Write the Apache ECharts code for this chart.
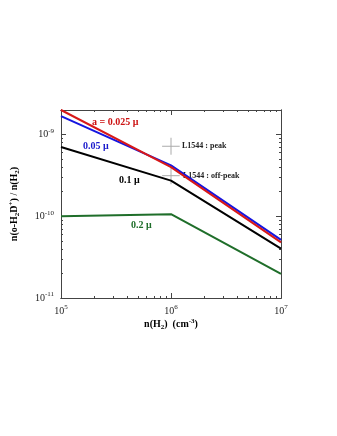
<!DOCTYPE html>
<html>
<head>
<meta charset="utf-8">
<script src="https://cdn.jsdelivr.net/npm/echarts@6/dist/echarts.min.js"></script>
<style>
html, body { margin: 0; padding: 0; background: #fff; }
#chart { width: 337px; height: 436px; }
</style>
</head>
<body>
<div id="chart"></div>
<script>
// n(H2) grid points
var densities = [1e5, 1e6, 1e7];
// n(o-H2D+)/n(H2) for each grain size
var a0025 = [2.0e-9, 4.0e-10, 4.8e-11];
var a005 = [1.68e-9, 4.2e-10, 5.15e-11];
var a01 = [7.06e-10, 2.73e-10, 4.03e-11];
var a02 = [1.0e-10, 1.06e-10, 1.97e-11];
// L1544 observations (centre and error ranges)
var peakX = 1e6, peakY = 7.2e-10;
var peakXRange = [8.3e5, 1.2e6], peakYRange = [5.67e-10, 9.15e-10];
var offX = 1e6, offY = 3.14e-10;
var offXRange = [8.3e5, 1.2e6], offYRange = [2.47e-10, 3.99e-10];
// ticks
var xMajor = [1e5, 1e6, 1e7];
var xMinor = [2e5, 3e5, 4e5, 5e5, 6e5, 7e5, 8e5, 9e5, 2e6, 3e6, 4e6, 5e6, 6e6, 7e6, 8e6, 9e6];
var yMajor = [1e-11, 1e-10, 1e-9];
var yMinor = [2e-11, 3e-11, 4e-11, 5e-11, 6e-11, 7e-11, 8e-11, 9e-11,
	2e-10, 3e-10, 4e-10, 5e-10, 6e-10, 7e-10, 8e-10, 9e-10];

var serif = '"Liberation Serif", "DejaVu Serif", serif';
var frameColor = '#444';

function pairs(xs, ys) {
	var out = [];
	for (var i = 0; i < xs.length; i++) {
		out.push([xs[i], ys[i]]);
	}
	return out;
}

var powRich = {
	b: { fontFamily: serif, fontSize: 10, color: '#222' },
	s: { fontFamily: serif, fontSize: 7, color: '#222', verticalAlign: 'top', padding: [0, 0, 7, 0] }
};
function powLabel(v) {
	var e = Math.round(Math.log10(v));
	return '{b|10}{s|' + e + '}';
}

var titleRich = {
	t: { fontFamily: serif, fontSize: 10, fontWeight: 'bold', color: '#000' },
	sub: { fontFamily: serif, fontSize: 7, fontWeight: 'bold', color: '#000', padding: [6, 0, 0, 0] },
	sup: { fontFamily: serif, fontSize: 7, fontWeight: 'bold', color: '#000', padding: [0, 0, 6, 0] }
};

function tickAxis(pos, vals, len, type) {
	var a = {
		type: 'log', logBase: 10, position: pos,
		axisLine: { show: true, lineStyle: { color: frameColor, width: 1 } },
		axisTick: { show: true, inside: true, length: len, customValues: vals, lineStyle: { color: frameColor } },
		axisLabel: { show: false },
		splitLine: { show: false }
	};
	return a;
}

var xA = [];
var xMain = tickAxis('bottom', xMajor, 5);
xMain.min = 1e5; xMain.max = 1e7;
xMain.axisLabel = { show: true, customValues: xMajor, margin: 6, formatter: powLabel, rich: powRich };
xMain.name = '{t|n(H}{sub|2}{t|)  (cm}{sup|-3}{t|)}';
xMain.nameLocation = 'middle';
xMain.nameGap = 20;
xMain.nameTextStyle = { rich: titleRich };
xA.push(xMain);
var xs = [['bottom', xMinor, 2], ['top', xMajor, 5], ['top', xMinor, 2]];
for (var i = 0; i < xs.length; i++) {
	var ax = tickAxis(xs[i][0], xs[i][1], xs[i][2]);
	ax.min = 1e5; ax.max = 1e7;
	xA.push(ax);
}

var yA = [];
var yMain = tickAxis('left', yMajor, 5);
yMain.min = 1e-11; yMain.max = 2e-9;
yMain.axisLabel = { show: true, customValues: yMajor, margin: 7, formatter: powLabel, rich: powRich };
yMain.name = '{t|n(o-H}{sub|2}{t|D}{sup|+}{t|) / n(H}{sub|2}{t|)}';
yMain.nameLocation = 'middle';
yMain.nameRotate = 90;
yMain.nameGap = 40;
yMain.nameTextStyle = { rich: titleRich };
yA.push(yMain);
var ys = [['left', yMinor, 2], ['right', yMajor, 5], ['right', yMinor, 2]];
for (var j = 0; j < ys.length; j++) {
	var ay = tickAxis(ys[j][0], ys[j][1], ys[j][2]);
	ay.min = 1e-11; ay.max = 2e-9;
	yA.push(ay);
}

function modelLine(name, data, color) {
	return {
		name: name, type: 'line', xAxisIndex: 0, yAxisIndex: 0,
		data: pairs(densities, data), symbol: 'none', silent: true,
		lineStyle: { color: color, width: 2 }, z: 3
	};
}
function errLine(data) {
	return {
		type: 'line', xAxisIndex: 0, yAxisIndex: 0, data: data,
		symbol: 'none', silent: true, lineStyle: { color: '#aaa', width: 1 }, z: 2
	};
}

function annot(x, y, text, color, size) {
	return {
		type: 'text', left: x, top: y,
		style: { text: text, fill: color, font: 'bold ' + size + 'px ' + serif, textVerticalAlign: 'middle' }
	};
}

var option = {
	animation: false,
	backgroundColor: '#fff',
	grid: { left: 60, right: 56, top: 110, bottom: 138, containLabel: false },
	xAxis: xA,
	yAxis: yA,
	series: [
		errLine([[peakXRange[0], peakY], [peakXRange[1], peakY]]),
		errLine([[peakX, peakYRange[0]], [peakX, peakYRange[1]]]),
		errLine([[offXRange[0], offY], [offXRange[1], offY]]),
		errLine([[offX, offYRange[0]], [offX, offYRange[1]]]),
		modelLine('0.2', a02, '#1f6e2a'),
		modelLine('0.1', a01, '#000000'),
		modelLine('0.05', a005, '#1515e0'),
		modelLine('0.025', a0025, '#d81818')
	],
	graphic: [
		annot(92, 117, 'a = 0.025 μ', '#cc1111', 10),
		annot(83, 141, '0.05 μ', '#1a1acc', 10),
		annot(119, 175, '0.1 μ', '#000', 10),
		annot(131, 220, '0.2 μ', '#1f6e2a', 10),
		annot(182, 142, 'L1544 : peak', '#222', 8),
		annot(183, 172, 'L1544 : off-peak', '#222', 8)
	]
};

var chart = echarts.init(document.getElementById('chart'));
chart.setOption(option);
</script>
</body>
</html>
